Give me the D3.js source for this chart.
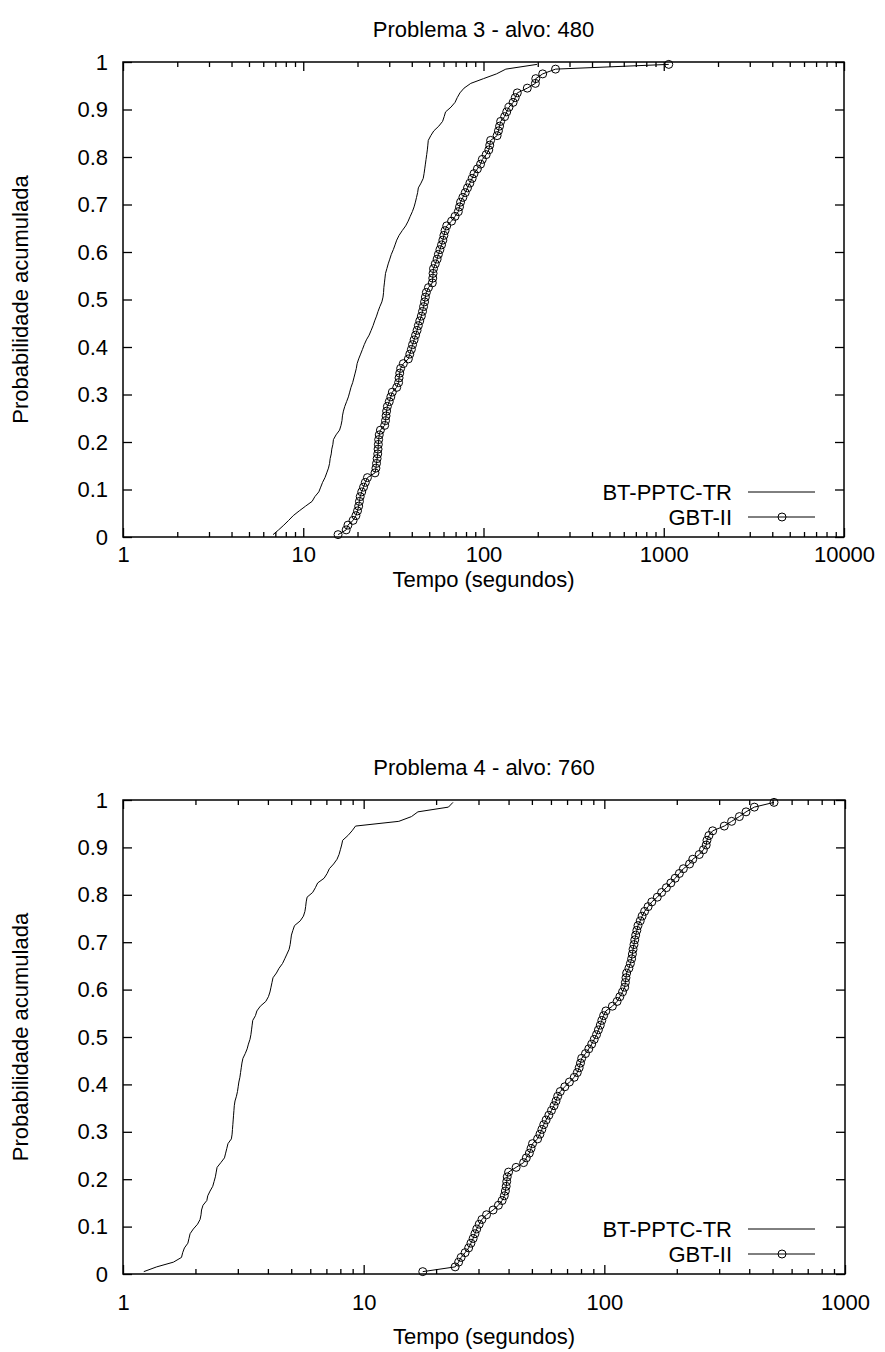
<!DOCTYPE html>
<html>
<head>
<meta charset="utf-8">
<title>TTT plots</title>
<script src="https://cdn.jsdelivr.net/npm/d3@7"></script>
<style>
  body { margin: 0; background: #fff; }
  text { font-family: "Liberation Sans", Arial, Helvetica, sans-serif; fill: #000; }
</style>
</head>
<body>
<script>
// tempos (segundos) ordenados, 100 execucoes por algoritmo
const p3_btpptc = [6.8, 7.3, 7.8, 8.3, 8.8, 9.5, 10.3, 11.2, 11.6, 12.2,
  12.5, 12.8, 13.2, 13.5, 13.8, 14.0, 14.1, 14.3, 14.4, 14.6,
  14.7, 15.2, 15.9, 16.2, 16.4, 16.5, 16.7, 17.0, 17.4, 17.8,
  18.1, 18.4, 18.8, 19.1, 19.4, 19.7, 19.9, 20.3, 20.8, 21.3,
  21.8, 22.4, 23.2, 23.8, 24.4, 24.9, 25.5, 26.0, 26.6, 27.3,
  27.7, 27.9, 28.0, 28.2, 28.4, 28.6, 29.1, 29.6, 30.2, 30.8,
  31.6, 32.3, 33.0, 34.0, 35.4, 37.0, 38.2, 39.2, 40.3, 41.2,
  41.9, 42.5, 43.1, 43.5, 45.0, 46.3, 46.8, 47.2, 47.6, 48.0,
  48.4, 48.8, 49.1, 49.4, 51.0, 53.0, 56.5, 59.3, 60.5, 61.6,
  66.0, 69.5, 71.5, 74.0, 78.0, 85.0, 100, 118, 133, 198];

const p3_gbt = [15.6, 17.3, 17.7, 18.9, 19.6, 20.0, 20.3, 20.5, 20.7, 21.1,
  21.6, 22.1, 22.7, 25.0, 25.3, 25.5, 25.7, 25.9, 26.0, 26.1,
  26.2, 26.4, 26.8, 28.3, 28.6, 28.8, 29.0, 29.3, 30.0, 30.6,
  31.2, 33.0, 33.8, 34.0, 34.3, 34.7, 35.9, 38.3, 39.0, 39.8,
  40.4, 41.2, 42.0, 42.8, 43.5, 44.3, 45.2, 45.9, 46.5, 47.1,
  47.6, 48.2, 49.5, 52.0, 52.3, 52.5, 52.8, 54.0, 55.3, 56.2,
  57.3, 58.5, 59.5, 60.3, 61.2, 62.5, 66.5, 69.5, 72.5, 73.6,
  74.6, 76.8, 79.2, 81.5, 84.0, 86.5, 88.6, 92.5, 96.3, 98.5,
  103.5, 107.0, 108.3, 109.5, 119.0, 121.0, 122.8, 124.5, 131.0, 134.5,
  138.5, 146.0, 150.0, 154.0, 175.0, 194.0, 195.0, 213.0, 251.0, 1066];

const p4_btpptc = [1.22, 1.38, 1.62, 1.75, 1.77, 1.80, 1.86, 1.88, 1.90, 1.96,
  2.04, 2.09, 2.11, 2.12, 2.15, 2.23, 2.25, 2.30, 2.36, 2.39,
  2.42, 2.44, 2.46, 2.55, 2.64, 2.67, 2.70, 2.73, 2.82, 2.84,
  2.85, 2.86, 2.87, 2.88, 2.89, 2.90, 2.92, 2.96, 2.99, 3.01,
  3.03, 3.06, 3.08, 3.10, 3.12, 3.15, 3.22, 3.28, 3.32, 3.37,
  3.40, 3.42, 3.44, 3.46, 3.55, 3.60, 3.72, 3.92, 4.02, 4.08,
  4.12, 4.16, 4.20, 4.34, 4.45, 4.60, 4.70, 4.80, 4.90, 4.95,
  4.98, 5.01, 5.08, 5.16, 5.45, 5.62, 5.70, 5.74, 5.77, 5.82,
  6.14, 6.30, 6.44, 6.85, 7.05, 7.20, 7.50, 7.75, 7.90, 8.00,
  8.10, 8.18, 8.60, 8.95, 9.25, 14.0, 15.8, 16.8, 22.5, 23.5];

const p4_gbt = [17.6, 24.0, 24.8, 25.4, 26.4, 27.3, 27.9, 28.5, 29.0, 29.5,
  30.2, 31.0, 32.4, 34.5, 36.3, 37.6, 38.4, 38.8, 39.1, 39.3,
  39.5, 40.0, 43.0, 46.2, 47.4, 48.8, 49.6, 50.3, 52.8, 54.0,
  55.0, 56.0, 57.3, 58.8, 60.3, 61.8, 63.0, 64.0, 65.6, 68.5,
  71.6, 75.0, 77.2, 78.6, 79.6, 80.5, 83.5, 86.2, 88.6, 90.8,
  92.8, 94.5, 96.2, 97.6, 99.3, 101.5, 108.0, 113.0, 116.0, 119.0,
  121.5, 122.3, 123.0, 123.8, 126.5, 128.3, 129.8, 130.8, 131.6, 132.8,
  133.8, 135.0, 136.5, 138.0, 141.0, 143.5, 147.0, 152.0, 157.5, 166.0,
  173.0, 181.0, 189.0, 197.0, 205.0, 213.0, 226.0, 233.0, 248.0, 258.0,
  265.0, 267.0, 272.0, 282.0, 315.0, 338.0, 364.0, 388.0, 420.0, 507.0];

const seriesNames = ["BT-PPTC-TR", "GBT-II"];
const titles = ["Problema 3 - alvo: 480", "Problema 4 - alvo: 760"];
const xTicks3 = [1, 10, 100, 1000, 10000];
const xTicks4 = [1, 10, 100, 1000];
const yTicks = [0, 0.1, 0.2, 0.3, 0.4, 0.5, 0.6, 0.7, 0.8, 0.9, 1];

const W = 885, H = 1352;
const FS = 22;

const svg = d3.select("body").append("svg")
  .attr("width", W).attr("height", H)
  .attr("viewBox", [0, 0, W, H]);

function panel(opt) {
  const g = svg.append("g");
  const x = d3.scaleLog()
    .domain(d3.extent(opt.xTicks))
    .range([opt.left, opt.right]);
  const y = d3.scaleLinear()
    .domain([0, 1])
    .range([opt.bottom, opt.top]);

  const minors = x.ticks().filter(t => !opt.xTicks.includes(t));

  const fmt = d => (d === 0 || d === 1) ? String(d) : d3.format(".1f")(d);

  // eixo x (baixo e cima)
  g.append("g").attr("transform", `translate(0,${opt.bottom})`)
    .call(d3.axisBottom(x).tickValues(opt.xTicks).tickSize(-9).tickPadding(opt.xPad).tickFormat(d3.format("d")))
    .call(a => a.select(".domain").remove());
  g.append("g").attr("transform", `translate(0,${opt.bottom})`)
    .call(d3.axisBottom(x).tickValues(minors).tickSize(-5).tickFormat(""))
    .call(a => a.select(".domain").remove());
  g.append("g").attr("transform", `translate(0,${opt.top})`)
    .call(d3.axisTop(x).tickValues(opt.xTicks).tickSize(-9).tickFormat(""))
    .call(a => a.select(".domain").remove());
  g.append("g").attr("transform", `translate(0,${opt.top})`)
    .call(d3.axisTop(x).tickValues(minors).tickSize(-5).tickFormat(""))
    .call(a => a.select(".domain").remove());

  // eixo y (esquerda e direita)
  g.append("g").attr("transform", `translate(${opt.left},0)`)
    .call(d3.axisLeft(y).tickValues(yTicks).tickSize(-9).tickPadding(15).tickFormat(fmt))
    .call(a => a.select(".domain").remove());
  g.append("g").attr("transform", `translate(${opt.right},0)`)
    .call(d3.axisRight(y).tickValues(yTicks).tickSize(-9).tickFormat(""))
    .call(a => a.select(".domain").remove());

  g.selectAll(".tick line").attr("stroke", "#000").attr("stroke-width", 1.3);
  g.selectAll(".tick text").attr("font-size", FS).attr("font-family", null);

  g.append("rect")
    .attr("x", opt.left).attr("y", opt.top)
    .attr("width", opt.right - opt.left).attr("height", opt.bottom - opt.top)
    .attr("fill", "none").attr("stroke", "#000").attr("stroke-width", 1.5);

  // titulo e rotulos
  g.append("text")
    .attr("x", (opt.left + opt.right) / 2).attr("y", opt.top - 25)
    .attr("text-anchor", "middle").attr("font-size", FS)
    .text(opt.title);
  g.append("text")
    .attr("x", (opt.left + opt.right) / 2).attr("y", opt.bottom + opt.titleOff)
    .attr("text-anchor", "middle").attr("font-size", FS)
    .text("Tempo (segundos)");
  g.append("text")
    .attr("transform", `translate(28,${(opt.top + opt.bottom) / 2}) rotate(-90)`)
    .attr("text-anchor", "middle").attr("font-size", FS)
    .text("Probabilidade acumulada");

  // curvas: probabilidade empirica (i - 0.5)/n
  const pts = arr => arr.map((t, i) => [t, (i + 0.5) / arr.length]);
  const line = d3.line().x(d => x(d[0])).y(d => y(d[1]));

  const a = pts(opt.a), b = pts(opt.b);
  g.append("path").attr("d", line(a))
    .attr("fill", "none").attr("stroke", "#000").attr("stroke-width", 1);
  g.append("path").attr("d", line(b))
    .attr("fill", "none").attr("stroke", "#000").attr("stroke-width", 1);
  g.append("g").selectAll("circle").data(b).join("circle")
    .attr("cx", d => x(d[0])).attr("cy", d => y(d[1])).attr("r", 4)
    .attr("fill", "none").attr("stroke", "#000").attr("stroke-width", 1);

  // legenda
  const lg = g.append("g");
  seriesNames.forEach((name, i) => {
    const ly = opt.bottom - 45 + i * 25;
    lg.append("text").attr("x", 732).attr("y", ly).attr("dy", "0.35em")
      .attr("text-anchor", "end").attr("font-size", FS).text(name);
    lg.append("line").attr("x1", 748).attr("x2", 815).attr("y1", ly).attr("y2", ly)
      .attr("stroke", "#000").attr("stroke-width", 1);
    if (i === 1) {
      lg.append("circle").attr("cx", 782).attr("cy", ly).attr("r", 4)
        .attr("fill", "none").attr("stroke", "#000").attr("stroke-width", 1);
    }
  });
}

panel({ left: 123, right: 844, top: 62, bottom: 537, xTicks: xTicks3, xPad: 9, titleOff: 50, title: titles[0], a: p3_btpptc, b: p3_gbt });
panel({ left: 123, right: 845, top: 800, bottom: 1274, xTicks: xTicks4, xPad: 20, titleOff: 70, title: titles[1], a: p4_btpptc, b: p4_gbt });
</script>
</body>
</html>
